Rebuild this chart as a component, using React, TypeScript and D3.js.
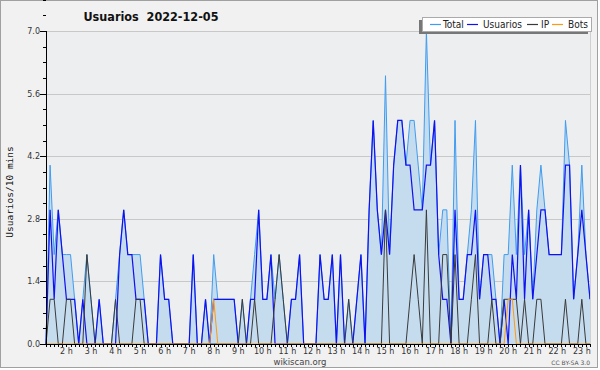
import React from "react";
import * as d3 from "d3";

// 10-minute samples, starting 1:10
const total = [
  0, 4, 2, 3, 2, 2, 2, 1, 0, 1,
  2, 1, 0, 1, 0, 0, 0, 1, 2, 3,
  2, 2, 2, 2, 1, 0, 0, 0, 2, 1,
  1, 0, 0, 0, 0, 0, 2, 0, 0, 1,
  0, 2, 1, 1, 1, 1, 1, 0, 1, 0,
  1, 2, 3, 1, 1, 2, 1, 2, 1, 0,
  1, 1, 2, 0, 0, 0, 0, 2, 1, 1,
  2, 0, 2, 0, 1, 0, 1, 2, 0, 3,
  5, 3, 2, 6, 2, 4, 5, 5, 4, 5,
  5, 4, 3, 7, 4, 5, 2, 3, 3, 0,
  5, 1, 1, 2, 3, 5, 1, 2, 2, 2,
  1, 0, 2, 2, 4, 2, 4, 2, 3, 1,
  3, 4, 3, 2, 2, 2, 2, 5, 4, 1,
  2, 4, 2, 1,
];
const usuarios = [
  0, 3, 1, 3, 2, 1, 1, 1, 0, 1,
  0, 0, 0, 1, 0, 0, 0, 0, 2, 3,
  2, 2, 1, 1, 1, 0, 0, 0, 2, 1,
  1, 0, 0, 0, 0, 0, 2, 0, 0, 1,
  0, 1, 1, 1, 1, 1, 1, 0, 0, 0,
  1, 1, 3, 1, 1, 2, 0, 0, 0, 0,
  1, 1, 2, 0, 0, 0, 0, 2, 1, 1,
  2, 0, 2, 0, 0, 0, 1, 2, 0, 3,
  5, 3, 2, 3, 2, 4, 5, 5, 4, 4,
  3, 3, 3, 4, 4, 5, 2, 1, 1, 0,
  3, 1, 1, 2, 2, 3, 1, 2, 2, 1,
  1, 0, 1, 0, 2, 1, 4, 1, 3, 1,
  2, 3, 3, 2, 2, 2, 2, 4, 4, 1,
  2, 3, 2, 1,
];
const ip = [
  0, 1, 1, 0, 0, 1, 1, 0, 0, 0,
  2, 1, 0, 0, 0, 0, 0, 1, 0, 0,
  0, 0, 1, 1, 0, 0, 0, 0, 0, 0,
  0, 0, 0, 0, 0, 0, 0, 0, 0, 0,
  0, 0, 0, 0, 0, 0, 0, 0, 1, 0,
  0, 1, 0, 0, 0, 0, 1, 2, 1, 0,
  0, 0, 0, 0, 0, 0, 0, 0, 0, 0,
  0, 0, 0, 0, 1, 0, 0, 0, 0, 0,
  0, 0, 0, 3, 0, 0, 0, 0, 0, 1,
  2, 1, 0, 3, 0, 0, 0, 2, 2, 0,
  2, 0, 0, 0, 1, 2, 0, 0, 0, 1,
  0, 0, 1, 1, 1, 1, 0, 1, 0, 0,
  1, 1, 0, 0, 0, 0, 0, 1, 0, 0,
  0, 1, 0, 0,
];
const bots = [
  0, 0, 0, 0, 0, 0, 0, 0, 0, 0,
  0, 0, 0, 0, 0, 0, 0, 0, 0, 0,
  0, 0, 0, 0, 0, 0, 0, 0, 0, 0,
  0, 0, 0, 0, 0, 0, 0, 0, 0, 0,
  0, 1, 0, 0, 0, 0, 0, 0, 0, 0,
  0, 0, 0, 0, 0, 0, 0, 0, 0, 0,
  0, 0, 0, 0, 0, 0, 0, 0, 0, 0,
  0, 0, 0, 0, 0, 0, 0, 0, 0, 0,
  0, 0, 0, 0, 0, 0, 0, 0, 0, 0,
  0, 0, 0, 0, 0, 0, 0, 0, 0, 0,
  0, 0, 0, 0, 0, 0, 0, 0, 0, 0,
  0, 0, 0, 1, 1, 0, 0, 0, 0, 0,
  0, 0, 0, 0, 0, 0, 0, 0, 0, 0,
  0, 0, 0, 0,
];
const yTicks = [0, 1.4, 2.8, 4.2, 5.6, 7.0];
const hourLabels = [
  "2 h", "3 h", "4 h", "5 h", "6 h", "7 h", "8 h", "9 h", "10 h", "11 h", "12 h",
  "13 h", "14 h", "15 h", "16 h", "17 h", "18 h", "19 h", "20 h", "21 h", "22 h", "23 h",
];
const FIRST_HOUR_INDEX = 5;
const POINTS_PER_HOUR = 6;

const seriesInfo = [
  { name: "Total", color: "#3f9cf0" },
  { name: "Usuarios", color: "#1010f0" },
  { name: "IP", color: "#3a3a3a" },
  { name: "Bots", color: "#ff9a10" },
];

const FONT = "'DejaVu Sans Condensed', 'DejaVu Sans', sans-serif";

export default function App() {
  const W = 600;
  const H = 370;
  const left = 46, right = 590, top = 31, bottom = 344;
  const x = d3.scaleLinear().domain([0, total.length - 1]).range([left, right]);
  const y = d3.scaleLinear().domain([0, 7]).range([bottom, top]);

  const line = d3.line<number>().x((_, i) => x(i)).y((d) => y(d));
  const area = d3.area<number>().x((_, i) => x(i)).y0(y(0)).y1((d) => y(d));
  const minorY = d3.range(0, 28.5, 1).map((k) => k * 0.35);

  const legendX = 422, legendY = 17, legendW = 169, legendH = 14;
  const legendItems = [
    { lx: 430, tx: 443 },
    { lx: 467, tx: 483 },
    { lx: 527, tx: 541 },
    { lx: 552, tx: 568 },
  ];

  return (
    <svg
      width={W}
      height={H}
      style={{ position: "absolute", left: 0, top: 0, display: "block" }}
      xmlns="http://www.w3.org/2000/svg"
    >
      <rect x={0} y={0} width={W} height={H} fill="#ffffff" />
      <rect x={0.5} y={0.5} width={597} height={367} fill="#f1f1f1" stroke="#a0a0a0" />
      <rect x={left} y={top} width={right - left} height={bottom - top} fill="#edeef0" />
      {/* grid */}
      {yTicks.map((t) => (
        <line key={"g" + t} x1={left} x2={right} y1={Math.round(y(t)) + 0.5} y2={Math.round(y(t)) + 0.5} stroke="#c8c8c8" />
      ))}
      {/* series */}
      <path d={area(total) || ""} fill="#c5dcef" />
      <path d={line(total) || ""} fill="none" stroke={seriesInfo[0].color} strokeWidth={1} />
      <path d={line(usuarios) || ""} fill="none" stroke={seriesInfo[1].color} strokeWidth={1.2} />
      <path d={line(ip) || ""} fill="none" stroke={seriesInfo[2].color} strokeWidth={1} />
      <path d={line(bots) || ""} fill="none" stroke={seriesInfo[3].color} strokeWidth={1} />
      <line x1={right + 0.5} x2={right + 0.5} y1={top} y2={bottom} stroke="#d0d0d0" />
      {/* y axis */}
      <line x1={left + 0.5} x2={left + 0.5} y1={top} y2={bottom + 1} stroke="#000" />
      {minorY.map((t, i) => (
        <line key={"m" + i} x1={left - 3} x2={left} y1={Math.round(y(t)) + 0.5} y2={Math.round(y(t)) + 0.5} stroke="#000" />
      ))}
      {yTicks.map((t) => (
        <g key={"yt" + t}>
          <line x1={left - 6} x2={left} y1={Math.round(y(t)) + 0.5} y2={Math.round(y(t)) + 0.5} stroke="#000" />
          <text x={left - 6} y={y(t) + 3} textAnchor="end" fontFamily="'DejaVu Sans', sans-serif" fontSize={8} fill="#333">
            {t.toFixed(1)}
          </text>
        </g>
      ))}
      {/* x axis */}
      <line x1={left} x2={right + 1} y1={bottom + 0.5} y2={bottom + 0.5} stroke="#000" />
      {total.map((_, i) => (
        <line key={"xt" + i} x1={Math.round(x(i)) + 0.5} x2={Math.round(x(i)) + 0.5} y1={bottom} y2={bottom + 3} stroke="#000" />
      ))}
      {hourLabels.map((lab, k) => {
        const xi = x(FIRST_HOUR_INDEX + k * POINTS_PER_HOUR);
        return (
          <text key={"xl" + k} x={xi} y={353.5} textAnchor="middle" fontFamily="'DejaVu Sans', sans-serif" fontSize={8} fill="#333">
            {lab}
          </text>
        );
      })}
      {/* title */}
      <text x={151} y={21} textAnchor="middle" fontFamily={FONT} fontWeight="bold" fontSize={12.5} fill="#111">
        {"Usuarios\u00a0\u00a02022-12-05"}
      </text>
      {/* y label */}
      <text
        transform="translate(13,192) rotate(-90)"
        textAnchor="middle"
        fontFamily="'DejaVu Sans Mono', monospace"
        fontSize={9.5}
        fill="#111"
      >
        Usuarios/10 mins
      </text>
      {/* legend */}
      <rect x={legendX - 3} y={legendY + 3} width={legendW} height={legendH} fill="#777" />
      <rect x={legendX + 0.5} y={legendY + 0.5} width={legendW} height={legendH} fill="#ffffff" stroke="#aaaaaa" />
      {seriesInfo.map((s, i) => (
        <g key={"lg" + i}>
          <line x1={legendItems[i].lx} x2={legendItems[i].lx + 11} y1={24.5} y2={24.5} stroke={s.color} strokeWidth={1.2} />
          <text x={legendItems[i].tx} y={28} fontFamily={FONT} fontSize={10} fill="#222">
            {s.name}
          </text>
        </g>
      ))}
      {/* footer */}
      <text x={300} y={364.5} textAnchor="middle" fontFamily="'DejaVu Sans', sans-serif" fontSize={8.5} fill="#444">
        wikiscan.org
      </text>
      <text x={590} y={365} textAnchor="end" fontFamily="'DejaVu Sans', sans-serif" fontSize={6} fill="#555">
        CC BY-SA 3.0
      </text>
    </svg>
  );
}
